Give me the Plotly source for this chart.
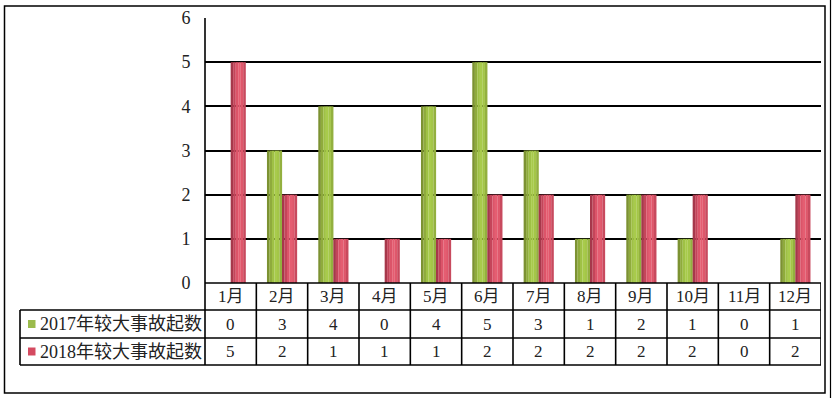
import plotly.graph_objects as go

months = ['1月', '2月', '3月', '4月', '5月', '6月', '7月', '8月', '9月', '10月', '11月', '12月']
series_names = ['2017年较大事故起数', '2018年较大事故起数']
v2017 = [0, 3, 4, 0, 4, 5, 3, 1, 2, 1, 0, 1]
v2018 = [5, 2, 1, 1, 1, 2, 2, 2, 2, 2, 0, 2]
y_ticks = [0, 1, 2, 3, 4, 5, 6]

W, H = 832, 398
def px(x):
    return x / W
def py(y):
    return 1 - y / H

PLOT_L, PLOT_R, PLOT_T, PLOT_B = 205, 821, 18, 283
ROWS = [283, 310, 338, 365]
TABLE_L = 20

green_shades = ['#7c9232', '#8fab3c', '#9fc145', '#a8cb4b', '#a4c648', '#93b03f']
red_shades = ['#a6384b', '#c4455a', '#dc5469', '#e55d71', '#df576b', '#c84a5e']
green_key = '#9bbb4c'
red_key = '#d44a60'

BAR_W = 0.293
N = len(green_shades)
sw = BAR_W / N

fig = go.Figure()
for i in range(N):
    fig.add_trace(go.Bar(x=months, y=v2017, offset=-BAR_W + i * sw, width=sw + 0.002,
                         marker=dict(color=green_shades[i], line=dict(width=0)),
                         name=series_names[0], showlegend=False, hoverinfo='y'))
for i in range(N):
    fig.add_trace(go.Bar(x=months, y=v2018, offset=i * sw, width=sw + 0.002,
                         marker=dict(color=red_shades[i], line=dict(width=0)),
                         name=series_names[1], showlegend=False, hoverinfo='y'))

font_family = 'Liberation Serif, Noto Sans CJK SC, serif'

shapes = []
LW = 1.6
# outer frame
shapes.append(dict(type='rect', xref='paper', yref='paper', x0=px(4.5), x1=px(825), y0=py(393), y1=py(6),
                   line=dict(color='black', width=1.5)))
shapes.append(dict(type='line', xref='paper', yref='paper', x0=px(830.5), x1=px(830.5), y0=0, y1=1,
                   line=dict(color='black', width=1.2)))
# plot left border
shapes.append(dict(type='line', xref='paper', yref='paper', x0=px(PLOT_L), x1=px(PLOT_L), y0=py(ROWS[-1]), y1=py(PLOT_T),
                   line=dict(color='black', width=LW)))
# table horizontal lines
shapes.append(dict(type='line', xref='paper', yref='paper', x0=px(PLOT_L), x1=px(PLOT_R), y0=py(ROWS[0]), y1=py(ROWS[0]),
                   line=dict(color='black', width=LW)))
for r in ROWS[1:]:
    shapes.append(dict(type='line', xref='paper', yref='paper', x0=px(TABLE_L), x1=px(PLOT_R), y0=py(r), y1=py(r),
                       line=dict(color='black', width=LW)))
shapes.append(dict(type='line', xref='paper', yref='paper', x0=px(TABLE_L), x1=px(TABLE_L), y0=py(ROWS[-1]), y1=py(ROWS[1]),
                   line=dict(color='black', width=LW)))
# column boundaries
for k in range(len(months)):
    shapes.append(dict(type='line', xref='x', yref='paper', x0=k + 0.5, x1=k + 0.5, y0=py(ROWS[-1]), y1=py(ROWS[0]),
                       line=dict(color='black', width=LW)))
# legend keys
shapes.append(dict(type='rect', xref='paper', yref='paper', x0=px(28), x1=px(35.5), y0=py(328), y1=py(320),
                   fillcolor=green_key, line=dict(width=0)))
shapes.append(dict(type='rect', xref='paper', yref='paper', x0=px(28), x1=px(35.5), y0=py(355.5), y1=py(347.5),
                   fillcolor=red_key, line=dict(width=0)))

annotations = []
def mid(a, b):
    return py((a + b) / 2)
TXT = dict(size=17, family=font_family, color='#222')
for m, a, b in zip(months, v2017, v2018):
    for txt, r0, r1 in ((m, ROWS[0], ROWS[1]), (str(a), ROWS[1], ROWS[2]), (str(b), ROWS[2], ROWS[3])):
        annotations.append(dict(x=m, y=mid(r0, r1), xref='x', yref='paper', text=txt, showarrow=False,
                                xanchor='center', yanchor='middle', font=TXT))
LBL = dict(size=18, family=font_family, color='#222')
annotations.append(dict(x=px(38), y=mid(ROWS[1], ROWS[2]), xref='paper', yref='paper', text=series_names[0],
                        showarrow=False, xanchor='left', yanchor='middle', font=LBL))
annotations.append(dict(x=px(38), y=mid(ROWS[2], ROWS[3]), xref='paper', yref='paper', text=series_names[1],
                        showarrow=False, xanchor='left', yanchor='middle', font=LBL))

fig.update_layout(
    width=W, height=H, autosize=False,
    margin=dict(l=0, r=0, t=0, b=0, pad=0),
    paper_bgcolor='white', plot_bgcolor='white',
    barmode='overlay',
    showlegend=False,
    xaxis=dict(domain=[px(PLOT_L), px(PLOT_R)], type='category', categoryorder='array', categoryarray=months,
               range=[-0.5, len(months) - 0.5], showticklabels=False, showgrid=False, zeroline=False, showline=False,
               fixedrange=True, automargin=False),
    yaxis=dict(domain=[py(PLOT_B), py(PLOT_T)], range=[0, 6], tickvals=y_ticks, ticktext=[str(t) for t in y_ticks],
               showgrid=True, gridcolor='black', gridwidth=1.5, zeroline=False, showline=False,
               ticks='outside', ticklen=10, tickcolor='rgba(0,0,0,0)', automargin=False,
               tickfont=dict(size=18, family=font_family, color='#222'), fixedrange=True),
    shapes=shapes,
    annotations=annotations,
)

fig.write_html('out.html', config={'displayModeBar': False},
               post_script="document.body.style.margin='0px';document.body.style.overflow='hidden';")
